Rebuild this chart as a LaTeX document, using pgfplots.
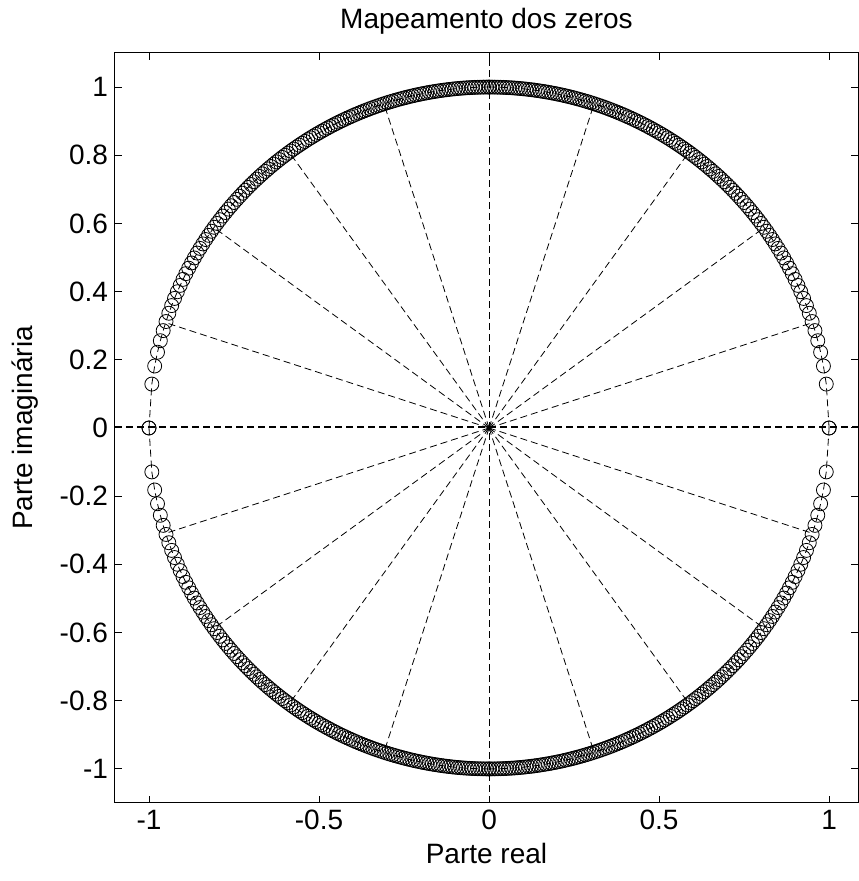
\documentclass[border=0pt]{standalone}
\usepackage{pgfplots}
\usepackage{pgfplotstable}
\pgfplotsset{compat=1.18}
\usepackage{fontspec}
\setmainfont{Liberation Sans}
\newcommand\ff{\fontsize{14pt}{16pt}\selectfont}

% first quadrant of the zeros (x, y); the other quadrants are its mirror images
\pgfplotstableread{
x y
0 1
0.00833 0.99997
0.01667 0.99986
0.025 0.99969
0.03333 0.99944
0.04167 0.99913
0.05 0.99875
0.05833 0.99830
0.06667 0.99778
0.075 0.99718
0.08333 0.99652
0.09167 0.99579
0.1 0.99499
0.10833 0.99412
0.11667 0.99317
0.125 0.99216
0.13333 0.99107
0.14167 0.98992
0.15 0.98869
0.15833 0.98738
0.16667 0.98601
0.175 0.98457
0.18333 0.98305
0.19167 0.98146
0.2 0.97980
0.20833 0.97806
0.21667 0.97625
0.225 0.97436
0.23333 0.97240
0.24167 0.97036
0.25 0.96825
0.25833 0.96606
0.26667 0.96379
0.275 0.96144
0.28333 0.95902
0.29167 0.95652
0.3 0.95394
0.30833 0.95128
0.31667 0.94853
0.325 0.94571
0.33333 0.94281
0.34167 0.93982
0.35 0.93675
0.35833 0.93359
0.36667 0.93035
0.375 0.92702
0.38333 0.92361
0.39167 0.92011
0.4 0.91652
0.40833 0.91284
0.41667 0.90906
0.425 0.90519
0.43333 0.90123
0.44167 0.89718
0.45 0.89303
0.45833 0.88878
0.46667 0.88443
0.475 0.87998
0.48333 0.87543
0.49167 0.87078
0.5 0.86603
0.50833 0.86116
0.51667 0.85619
0.525 0.85110
0.53333 0.84591
0.54167 0.84059
0.55 0.83517
0.55833 0.82962
0.56667 0.82395
0.575 0.81815
0.58333 0.81223
0.59167 0.80618
0.6 0.8
0.60833 0.79368
0.61667 0.78723
0.625 0.78063
0.63333 0.77388
0.64167 0.76698
0.65 0.75993
0.65833 0.75273
0.66667 0.74536
0.675 0.73782
0.68333 0.73011
0.69167 0.72222
0.7 0.71414
0.70833 0.70587
0.71667 0.69742
0.725 0.68875
0.73333 0.67987
0.74167 0.67077
0.75 0.66144
0.75833 0.65187
0.76667 0.64204
0.775 0.63196
0.78333 0.62160
0.79167 0.61095
0.8 0.6
0.80833 0.58873
0.81667 0.57711
0.825 0.56513
0.83333 0.55277
0.84167 0.54000
0.85 0.52678
0.85833 0.51309
0.86667 0.49889
0.875 0.48412
0.88333 0.46874
0.89167 0.45269
0.9 0.43589
0.90833 0.41825
0.91667 0.39965
0.925 0.37997
0.93333 0.35901
0.94167 0.33655
0.95 0.31225
0.95833 0.28565
0.96667 0.25604
0.975 0.22221
0.98333 0.18181
0.99167 0.12883
1 0
}\qa

\begin{document}
\begin{tikzpicture}
\begin{axis}[
  name=ax,
  scale only axis,
  width=371.5pt, height=375pt,
  xmin=-1.1, xmax=1.085, ymin=-1.1, ymax=1.1,
  axis line style={line width=0.5pt},
  tick align=inside,
  major tick length=3.5pt,
  tick style={line width=0.5pt, black},
  xtick={-1,-0.5,0,0.5,1},
  xticklabels={-1,-0.5,0,0.5,1},
  ytick={-1,-0.8,-0.6,-0.4,-0.2,0,0.2,0.4,0.6,0.8,1},
  yticklabels={-1,-0.8,-0.6,-0.4,-0.2,0,0.2,0.4,0.6,0.8,1},
  ticklabel style={font=\ff},
  label style={font=\ff},
  title style={font=\ff},
  title={Mapeamento dos zeros},
  xlabel={Parte real},
  ylabel={Parte imaginária},
  ylabel shift=4pt,
  clip=true,
]
% axis lines
\addplot[black, line width=0.5pt, dash pattern=on 3.5pt off 2pt] coordinates {(-1.1,0) (1.085,0)};
\addplot[black, line width=0.5pt, dash pattern=on 3.5pt off 2pt] coordinates {(-1.1,0.003) (1.085,0.003)};
\addplot[black, line width=0.5pt, dash pattern=on 3.5pt off 2pt] coordinates {(0,-1.1) (0,1.1)};
% radial lines every 18 degrees
\pgfplotsset{radial/.style={black, line width=0.4pt, dash pattern=on 3.5pt off 2pt}}
\addplot[radial] coordinates {(0,0) (0.95106,0.30902)};
\addplot[radial] coordinates {(0,0) (0.80902,0.58779)};
\addplot[radial] coordinates {(0,0) (0.58779,0.80902)};
\addplot[radial] coordinates {(0,0) (0.30902,0.95106)};
\addplot[radial] coordinates {(0,0) (-0.95106,0.30902)};
\addplot[radial] coordinates {(0,0) (-0.80902,0.58779)};
\addplot[radial] coordinates {(0,0) (-0.58779,0.80902)};
\addplot[radial] coordinates {(0,0) (-0.30902,0.95106)};
\addplot[radial] coordinates {(0,0) (0.95106,-0.30902)};
\addplot[radial] coordinates {(0,0) (0.80902,-0.58779)};
\addplot[radial] coordinates {(0,0) (0.58779,-0.80902)};
\addplot[radial] coordinates {(0,0) (0.30902,-0.95106)};
\addplot[radial] coordinates {(0,0) (-0.95106,-0.30902)};
\addplot[radial] coordinates {(0,0) (-0.80902,-0.58779)};
\addplot[radial] coordinates {(0,0) (-0.58779,-0.80902)};
\addplot[radial] coordinates {(0,0) (-0.30902,-0.95106)};
% zeros
\pgfplotsset{zer/.style={black, line width=0.4pt, dash pattern=on 3.5pt off 2pt, mark=o, mark size=3.5pt, mark options={solid, line width=0.4pt}}}
\addplot[zer] table[x=x, y=y] {\qa};
\addplot[zer] table[x expr=-\thisrow{x}, y=y] {\qa};
\addplot[zer] table[x=x, y expr=-\thisrow{y}] {\qa};
\addplot[zer] table[x expr=-\thisrow{x}, y expr=-\thisrow{y}] {\qa};
% origin
\addplot[black, only marks, mark=asterisk, mark size=1.5pt, mark options={line width=0.5pt}] coordinates {(0,0)};
\end{axis}
\pgfresetboundingbox
\useasboundingbox ([shift={(-57.5pt,-39pt)}]ax.south west) rectangle ([shift={(0.5pt,26.5pt)}]ax.north east);
\end{tikzpicture}
\end{document}
